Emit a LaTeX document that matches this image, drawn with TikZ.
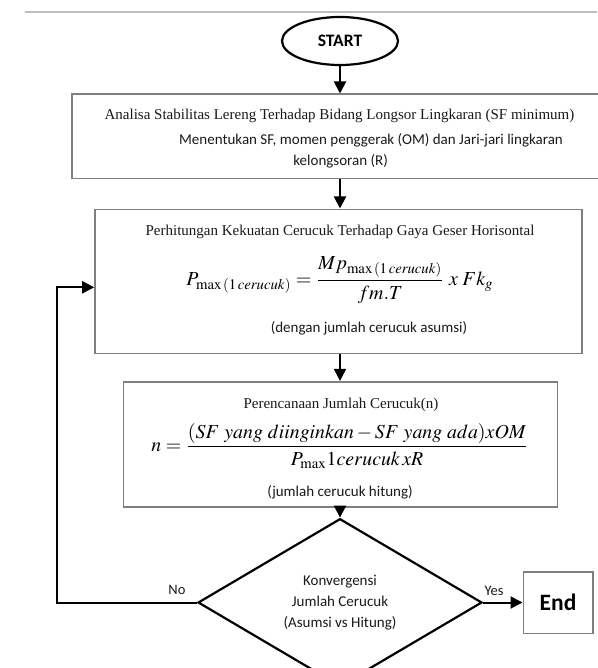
\documentclass[tikz,border=0pt]{standalone}
\usepackage{mathptmx}
\usepackage[no-math]{fontspec}
\setmainfont{Liberation Serif}
\newfontfamily\sansc{Carlito}
\usepackage{graphicx}
\usetikzlibrary{arrows.meta,shapes.geometric,calc}
\definecolor{boxgray}{HTML}{7F7F7F}
\definecolor{txt}{HTML}{1A1A1A}
\definecolor{rulegray}{HTML}{BDBDBD}
\begin{document}
\begin{tikzpicture}[x=1pt,y=-1pt,
  graybox/.style={draw=boxgray, line width=1.6pt, inner sep=0pt},
  arr/.style={line width=2pt, -{Triangle[length=12pt,width=12pt]}},
  serif/.style={font=\fontsize{15}{18}\selectfont, text=txt, inner sep=0pt},
  sans/.style={font=\sansc\fontsize{15}{18}\selectfont, text=txt, inner sep=0pt},
  lbl/.style={font=\sansc\fontsize{14.5}{17}\selectfont, text=txt, inner sep=0pt}]
\useasboundingbox (0,0) rectangle (597,668);
\fill[white] (0,0) rectangle (597,668);
\draw[rulegray, line width=1.3pt] (25,12) -- (597,12);
\coordinate (axis) at (340,0);

% START
\node[ellipse, draw, line width=2.2pt, minimum width=116pt, minimum height=48pt, inner sep=0pt,
      font=\sansc\bfseries\fontsize{17.5}{20}\selectfont] (start) at (340,41) {START};

% box 1
\node[graybox, minimum width=543.3pt, minimum height=84.4pt] (box1) at (343.35,136.5) {};
\node[serif] (t1a) at (339.5,116) {Analisa Stabilitas Lereng Terhadap Bidang Longsor Lingkaran (SF minimum)};
\node[sans] (t1b) at (371,140) {Menentukan SF, momen penggerak (OM) dan Jari-jari lingkaran};
\node[sans] (t1c) at (340.6,161.7) {kelongsoran (R)};

% box 2
\node[graybox, minimum width=486.7pt, minimum height=144pt] (box2) at (338.35,281.3) {};
\node[serif] (t2a) at (340,231.7) {Perhitungan Kekuatan Cerucuk Terhadap Gaya Geser Horisontal};
\node[inner sep=0pt] (f1) at (340,280)
  {\resizebox{307pt}{!}{$\displaystyle P_{\max\,(1\,\mathit{cerucuk})}=\frac{Mp_{\max\,(1\,\mathit{cerucuk})}}{fm.T}\;x\;Fk_{g}$}};
\node[sans] (t2c) at (369,328) {(dengan jumlah cerucuk asumsi)};

% box 3
\node[graybox, minimum width=434pt, minimum height=125pt] (box3) at (340.3,444.2) {};
\node[serif] (t3a) at (341,405) {Perencanaan Jumlah Cerucuk(n)};
\node[inner sep=0pt] (f2) at (340,446)
  {\resizebox{377pt}{!}{$\displaystyle n=\frac{(SF\ yang\ diinginkan-SF\ yang\ ada)xOM}{P_{\max}1cerucuk\,xR}$}};
\node[sans] (t3c) at (340,492.5) {(jumlah cerucuk hitung)};

% decision
\node[diamond, draw, line width=2.2pt, minimum width=284pt, minimum height=134pt, inner sep=0pt,
      align=center, text=txt, font=\sansc\fontsize{15}{21}\selectfont] (dia) at (340,602.5)
      {Konvergensi\\Jumlah Cerucuk\\(Asumsi vs Hitung)};

% end
\node[graybox, minimum width=69.4pt, minimum height=61.6pt, text=black,
      font=\sansc\bfseries\fontsize{23.5}{28}\selectfont] (endn) at (558,602.5) {End};

% connectors
\draw[arr] (start.south) -- (start.south |- box1.north);
\draw[arr] (box1.south -| axis) -- (box2.north -| axis);
\draw[arr] (box2.south -| axis) -- (box3.north -| axis);
\draw[arr] (box3.south -| axis) -- (dia.north);
\draw[arr] (dia.east) -- (endn.west);
\coordinate (fb) at (57.3,287.3);
\draw[arr] (dia.west) -| (fb) -- (fb -| box2.west);

\node[lbl] (no) at (177,590) {No};
\node[lbl] (yes) at (494,590.7) {Yes};
\end{tikzpicture}
\end{document}
